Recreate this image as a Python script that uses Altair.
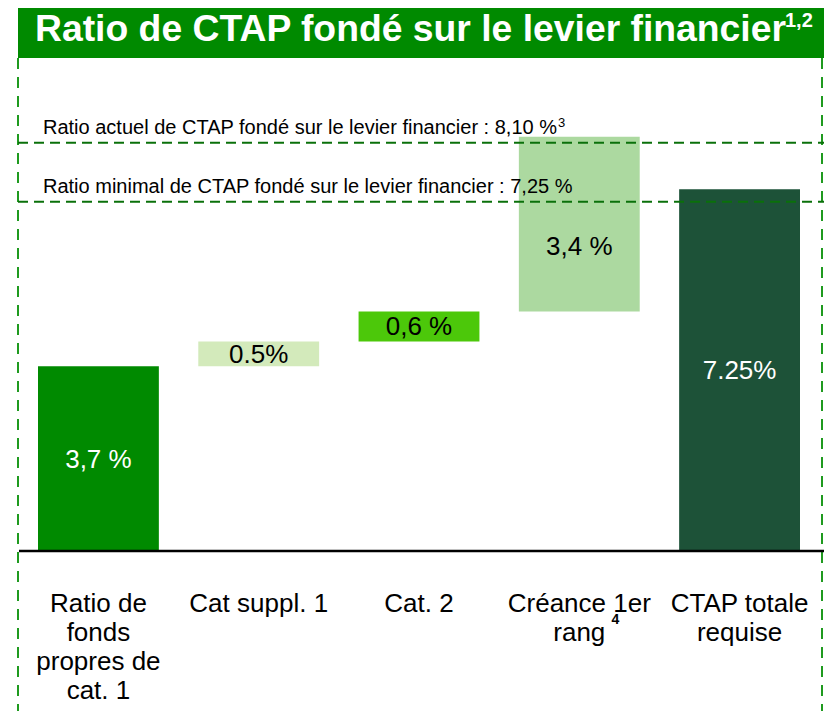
import altair as alt
import pandas as pd
import numpy as np

# ---- data ----
categories = ["Ratio de fonds propres de cat. 1", "Cat suppl. 1", "Cat. 2",
              "Créance 1er rang", "CTAP totale requise"]
axis_labels = ["Ratio de\nfonds\npropres de\ncat. 1", "Cat suppl. 1", "Cat. 2",
               "Créance 1er\nrang", "CTAP totale\nrequise"]
values = [3.7, 0.5, 0.6, 3.5, 7.25]
value_labels = ["3,7 %", "0.5%", "0,6 %", "3,4 %", "7.25%"]
is_total = [False, False, False, False, True]

ref_levels = [8.18, 7.0]
ref_texts = ["Ratio actuel de CTAP fondé sur le levier financier : 8,10 %",
             "Ratio minimal de CTAP fondé sur le levier financier : 7,25 %"]

title_text = "Ratio de CTAP fondé sur le levier financier"
title_sup = "1,2"

# ---- styles ----
bar_colors = ["#008a00", "#d3eabb", "#4cc80a", "#acd9a0", "#1d5238"]
label_colors = ["white", "black", "black", "black", "white"]
FONT = "Liberation Sans"

# ---- table ----
starts, ends = [], []
run = 0.0
for v, t in zip(values, is_total):
    if t:
        starts.append(0.0); ends.append(v)
    else:
        starts.append(run); run += v; ends.append(run)
df = pd.DataFrame({
    "cat": categories, "axis_label": axis_labels, "start": starts, "end": ends,
    "mid": [(a + b) / 2 for a, b in zip(starts, ends)],
    "vlabel": value_labels, "color": bar_colors, "lcolor": label_colors,
    "idx": list(range(len(categories))),
})
ref_df = pd.DataFrame({"level": ref_levels, "text": ref_texts, "i": [0, 1]})

W, H = 816, 703
yscale = alt.Scale(domain=[0, 10], range=[543, 44], nice=False, zero=False)
xscale = alt.Scale(domain=categories, range=[30, 792], paddingInner=0.246, paddingOuter=0)

one = alt.Data(values=[{"a": 1}])

banner = alt.Chart(one).mark_rect(color="#008a00").encode(
    x=alt.value(10), x2=alt.value(W), y=alt.value(0), y2=alt.value(50))
title = alt.Chart(one).mark_text(
    text=title_text, font=FONT, fontSize=37.3, fontWeight="bold", color="white",
    align="left", baseline="alphabetic").encode(x=alt.value(27), y=alt.value(33))
title_s = alt.Chart(one).mark_text(
    text=title_sup, font=FONT, fontSize=20, fontWeight="bold", color="white",
    align="left", baseline="alphabetic").encode(x=alt.value(777), y=alt.value(19))

border_l = alt.Chart(one).mark_rule(color="#1f9a1f", strokeWidth=2, strokeDash=[11, 8]).encode(
    x=alt.value(10), y=alt.value(50), y2=alt.value(H))
border_r = alt.Chart(one).mark_rule(color="#1f9a1f", strokeWidth=2, strokeDash=[11, 8]).encode(
    x=alt.value(814), y=alt.value(50), y2=alt.value(H))

ref_rules = alt.Chart(ref_df).mark_rule(color="#0a700a", strokeWidth=2, strokeDash=[10, 6]).encode(
    y=alt.Y("level:Q", scale=yscale, axis=None), x=alt.value(10), x2=alt.value(W))
ref_text = alt.Chart(ref_df).mark_text(
    font=FONT, fontSize=20, color="black", align="left", baseline="alphabetic", dy=-9).encode(
    y=alt.Y("level:Q", scale=yscale, axis=None), x=alt.value(35), text="text:N")
ref_sup = alt.Chart(ref_df).transform_filter("datum.i == 0").mark_text(
    font=FONT, fontSize=13, color="black", align="left", baseline="alphabetic", dy=-16, text="3").encode(
    y=alt.Y("level:Q", scale=yscale, axis=None), x=alt.value(550))

bars = alt.Chart(df).mark_bar().encode(
    x=alt.X("cat:N", scale=xscale, axis=None, sort=categories),
    y=alt.Y("start:Q", scale=yscale, axis=None), y2="end:Q",
    color=alt.Color("color:N", scale=None))

lab_main = alt.Chart(df).transform_filter("datum.idx != 3").mark_text(
    font=FONT, fontSize=26, baseline="middle", dy=1).encode(
    x=alt.X("cat:N", scale=xscale, axis=None, sort=categories),
    y=alt.Y("mid:Q", scale=yscale, axis=None),
    text="vlabel:N", color=alt.Color("lcolor:N", scale=None))
lab_4 = alt.Chart(df).transform_filter("datum.idx == 3").mark_text(
    font=FONT, fontSize=26, baseline="middle", dy=23).encode(
    x=alt.X("cat:N", scale=xscale, axis=None, sort=categories),
    y=alt.Y("mid:Q", scale=yscale, axis=None),
    text="vlabel:N", color=alt.Color("lcolor:N", scale=None))

baseline = alt.Chart(one).mark_rule(color="black", strokeWidth=2.5).encode(
    y=alt.datum(0, scale=yscale), x=alt.value(11), x2=alt.value(W))

xlabels = alt.Chart(df).mark_text(
    font=FONT, fontSize=26, baseline="top", lineBreak="\n", lineHeight=29, color="black").encode(
    x=alt.X("cat:N", scale=xscale, axis=None, sort=categories),
    y=alt.value(583), text="axis_label:N")
sup4 = alt.Chart(df).transform_filter("datum.idx == 3").mark_text(
    font=FONT, fontSize=14, fontWeight="bold", baseline="middle", dx=36, text="4", color="black").encode(
    x=alt.X("cat:N", scale=xscale, axis=None, sort=categories), y=alt.value(612))

chart = alt.layer(
    banner, title, title_s, border_l, border_r, bars, ref_rules, ref_text, ref_sup,
    lab_main, lab_4, baseline, xlabels, sup4
).properties(
    width=W, height=H, autosize=alt.AutoSizeParams(type="none"), padding=0,
    background="white"
).configure_view(stroke=None)

chart.save("out.html", embed_options={"renderer": "svg", "actions": False})
